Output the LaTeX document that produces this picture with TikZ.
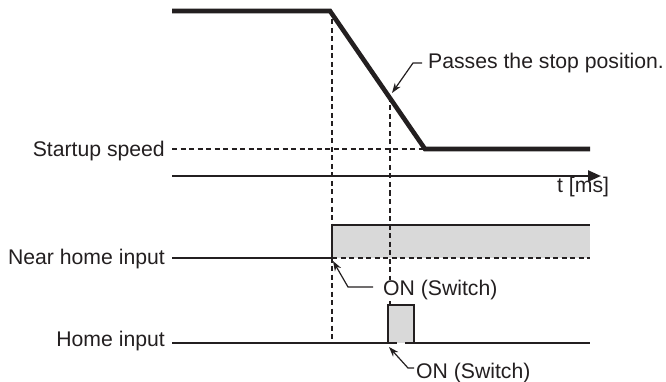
\documentclass[tikz,border=0pt]{standalone}
\usepackage{fontspec}
\setmainfont{Liberation Sans}
\usetikzlibrary{arrows.meta}
\definecolor{ink}{HTML}{231F20}
\definecolor{pulsegray}{HTML}{D9D9D9}
\tikzset{
  lbl/.style={inner sep=0pt, text=ink, font=\fontsize{21.2}{25}\selectfont},
  speedline/.style={draw=ink, line width=4.6pt, line join=miter},
  sigline/.style={draw=ink, line width=2.4pt},
  dashline/.style={draw=ink, line width=1.6pt, dash pattern=on 5pt off 3.5pt},
  leader/.style={draw=ink, line width=1.2pt, -{Stealth[length=10pt,width=7pt]}},
  axisline/.style={draw=ink, line width=2.4pt, -{Triangle[length=13pt,width=11pt]}},
  grayarea/.style={fill=pulsegray},
}
\begin{document}
\begin{tikzpicture}[x=1pt,y=-1pt]
\useasboundingbox (0,0) rectangle (666,382);
% key points
\coordinate (sp0) at (172,11);
\coordinate (sp1) at (330,11);
\coordinate (sp2) at (425,149);
\coordinate (sp3) at (590,149);
\coordinate (ax0) at (172,176);
\coordinate (ax1) at (601,176);
% shaded areas
\path[grayarea] (332,225) rectangle (590,258);
\path[grayarea] (388,305) rectangle (414,343);
% vertical dashed lines
\draw[dashline] (332,11) -- (332,343);
\draw[dashline] (390,97) -- (390,305);
% startup speed dashed
\draw[dashline] (172,149) -- (sp2);
% speed profile
\draw[speedline] (sp0) -- (sp1) -- (sp2) -- (sp3);
% time axis
\draw[axisline] (ax0) -- (ax1);
% near home input
\draw[sigline] (172,258) -- (332,258) -- (332,225) -- (590,225);
\draw[dashline] (332,258) -- (590,258);
% home input
\draw[sigline] (172,343) -- (397,343);
\draw[sigline] (405,343) -- (590,343);
\draw[sigline] (388,343) -- (388,305) -- (414,305) -- (414,343);
% labels
\node[lbl, anchor=base east] (su) at (165,157) {Startup speed};
\node[lbl, anchor=base east] (nh) at (165,264) {Near home input};
\node[lbl, anchor=base east] (hi) at (165,346) {Home input};
\node[lbl, anchor=base west] (ps) at (428,69) {Passes the stop position.};
\node[lbl, anchor=base west] (tm) at (557,193) {t [ms]};
\node[lbl, anchor=base west, fill=white] (on1) at (383,295) {ON (Switch)};
\node[lbl, anchor=base west] (on2) at (416,378) {ON (Switch)};
% leaders
\coordinate (t1) at (392,93);
\coordinate (t2) at (333,261);
\coordinate (t3) at (389,347);
\draw[leader] (422,63) -- (413,63) -- (t1);
\draw[leader] (373,287) -- (348,287) -- (t2);
\draw[leader] (414,368) -- (408,368) -- (t3);
\end{tikzpicture}
\end{document}
